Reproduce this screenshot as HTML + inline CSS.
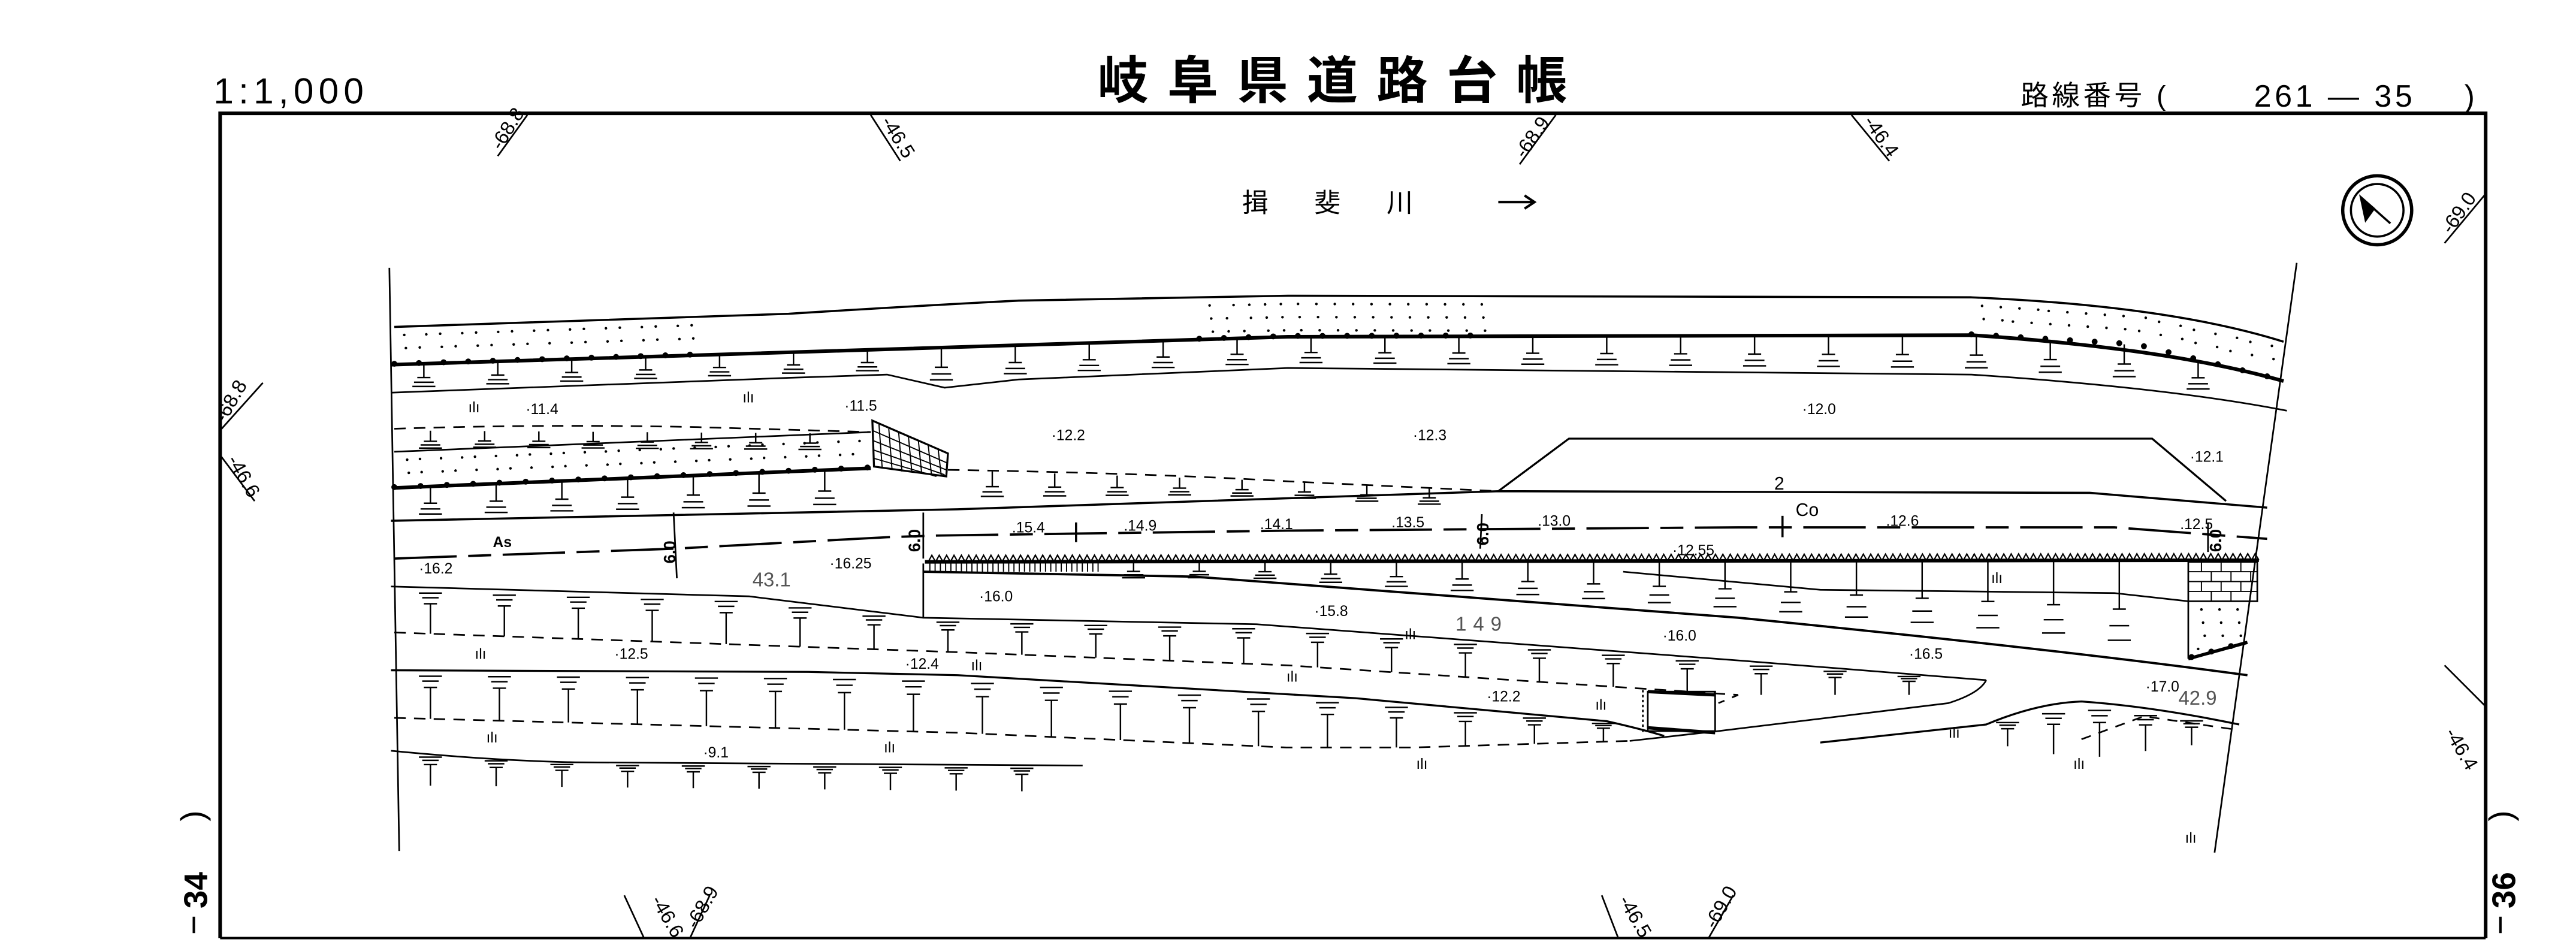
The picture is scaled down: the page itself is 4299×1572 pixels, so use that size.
<!DOCTYPE html>
<html><head><meta charset="utf-8"><style>
html,body{margin:0;padding:0;background:#fff}
svg{display:block}
text{font-family:"Liberation Sans","Noto Sans CJK JP",sans-serif;fill:#000}
</style></head><body>
<svg id="s" xmlns="http://www.w3.org/2000/svg" width="4299" height="1572" viewBox="0 0 1568 573.4" preserveAspectRatio="none">
<rect width="1568" height="574" fill="#fff"/>
<g fill="none" stroke="#000" stroke-width="1">
<path d="M134,571 L134,69 L1513,69 L1513,571" stroke-width="2.2"/>
<line x1="134" y1="571" x2="1513" y2="571" stroke-width="1.5"/>
<line x1="237" y1="163" x2="243" y2="518"/>
<line x1="1398" y1="160" x2="1348" y2="519"/>
<path id="A" d="M240,199 L480,191 Q560,186 620,183 L784,180 L1200,181 Q1320,186 1390,208" stroke-width="1.3"/>
<path d="M238,222 L784,205 L1200,204 Q1320,212 1390,232" stroke-width="2.2"/>
<path d="M238,239 L480,230 L540,228 L575,236 L620,231 L784,224 L1200,228 Q1320,236 1392,250"/>
<path d="M240,261 Q330,258 425,260 L530,263" stroke-dasharray="7 5"/>
<path d="M240,275 L530,263"/>
<path d="M240,297 L530,285" stroke-width="2.2"/>
<path d="M531,256 L577,276 L576,290 L532,284 Z" stroke-width="1.2"/>
<g stroke-width="0.7">
<path d="M535,258 L537,285 M541,261 L543,286 M547,263 L549,287 M553,266 L555,287 M559,268 L561,288 M565,271 L567,289 M571,273 L573,290"/>
<path d="M531,262 L577,282 M531,268 L576,286 M532,274 L575,289 M532,279 L570,290"/>
</g>
<path d="M577,286 Q700,288 784,293 L912,299" stroke-dasharray="7 5"/>
<path d="M238,317 L583,310 L912,299 L1272,300 L1380,309" stroke-width="1.3"/>
<path d="M912,299 L955,267 L1310,267 L1355,305" stroke-width="1.2"/>
<path d="M240,340 L410,334 L540,327 L570,326 L784,323 L1058,321 L1287,321 L1380,328" stroke-width="1.4" stroke-dasharray="38 7 14 7"/>
<line x1="655" y1="318" x2="655" y2="330" stroke-width="1.3"/>
<line x1="1085" y1="314" x2="1085" y2="327" stroke-width="1.3"/>
<path d="M410,312 L412,352 M562,312 L562,340 M902,313 L901,334 M1344,318 L1344,336" stroke-width="1"/>
<path d="M238,357 L456,363 L562,376 L765,380 L1058,402 L1209,414"/>
<line x1="562" y1="343" x2="562" y2="376"/>
<path d="M562,348 L727,351 L1058,376 Q1250,395 1368,411" stroke-width="1.4"/>
<path d="M988,348 L1108,359 L1287,361 L1332,366"/>
<path d="M240,385 L583,397 L784,405 L1058,423 L1046,428" stroke-dasharray="7 5"/>
<path d="M238,408 L492,409 L583,411 L825,425 L978,439 Q1000,444 1013,448" stroke-width="1.2"/>
<path d="M240,437 L583,446 L783,455 L860,455 L992,451" stroke-dasharray="7 5"/>
<path d="M992,451 L1046,445 L1186,428 Q1205,422 1209,414"/>
<rect x="1003" y="421" width="41" height="24"/>
<line x1="1003" y1="421" x2="1044" y2="423" stroke-width="2"/>
<line x1="1003" y1="443" x2="1044" y2="446" stroke-width="2"/>
<line x1="1000" y1="420" x2="1000" y2="446" stroke-dasharray="1.5 1.5"/>
<path d="M238,457 Q300,463 350,464 L659,466"/>
<path d="M1108,452 L1209,441 Q1240,428 1267,427 Q1310,430 1363,441" stroke-width="1.2"/>
<path d="M1267,450 L1305,436 L1360,444" stroke-dasharray="6 5"/>
<path d="M563,342 L1375,341" stroke-width="2.2"/>
<path id="zz" stroke-width="0.8"/>
<g stroke-width="0.7"><path id="vh"/></g>
<rect x="1332" y="342" width="42" height="24"/>
<path d="M1332,348 L1374,348 M1332,354 L1374,354 M1332,360 L1374,360 M1340,342 L1340,348 M1352,342 L1352,348 M1364,342 L1364,348 M1346,348 L1346,354 M1358,348 L1358,354 M1370,348 L1370,354 M1340,354 L1340,360 M1352,354 L1352,360 M1364,354 L1364,360 M1346,360 L1346,366 M1358,360 L1358,366" stroke-width="0.7"/>
<path d="M1332,366 L1332,401" stroke-width="1"/>
<path d="M1332,401 L1368,391" stroke-width="2"/>
<g id="ticks" stroke-width="0.9"></g>
<g id="bumps" fill="#000" stroke="none"></g>
<g id="dots" fill="#000" stroke="none"></g>
<circle cx="1447" cy="128" r="21" stroke-width="2"/>
<circle cx="1447" cy="128" r="16" stroke-width="1.3"/>
<path d="M1437,120 L1455,136 M1437,120 L1440,134 L1445,127 Z" stroke-width="1.3" fill="#000"/>
<path d="M321,70 L303,95 M530,70 L548,98 M947,70 L925,100 M1127,70 L1150,98 M1513,118 L1488,148 M134,262 L160,233 M134,277 L155,305 M1513,430 L1488,405 M392,571 L380,545 M420,571 L432,545 M985,571 L975,545 M1040,571 L1055,545" stroke-width="1"/>
<line x1="118" y1="558" x2="118" y2="568" stroke-width="1.5"/>
<line x1="1522" y1="558" x2="1522" y2="568" stroke-width="1.5"/>
</g>
<text x="130" y="63" font-size="22" letter-spacing="3">1:1,000</text>
<text x="668" y="60" font-size="31" font-weight="bold" letter-spacing="11.5">岐阜県道路台帳</text>
<text x="1230" y="64" font-size="17" letter-spacing="2">路線番号 (</text>
<text x="1372" y="65" font-size="19" letter-spacing="2">261 — 35</text>
<text x="1500" y="65" font-size="19">)</text>
<text x="756" y="129" font-size="16" letter-spacing="28">揖斐川</text>
<path d="M912,123 L934,123 M928,119 L934,123 L928,127" stroke="#000" fill="none" stroke-width="1.5"/>
<g font-size="12">
<text transform="translate(305,92) rotate(-58)">-68.8</text>
<text transform="translate(536,74) rotate(58)">-46.5</text>
<text transform="translate(928,97) rotate(-55)">-68.9</text>
<text transform="translate(1134,74) rotate(55)">-46.4</text>
<text transform="translate(1492,143) rotate(-55)">-69.0</text>
<text transform="translate(137,258) rotate(-60)">-68.8</text>
<text transform="translate(138,280) rotate(60)">-46.6</text>
<text transform="translate(1488,446) rotate(60)">-46.4</text>
<text transform="translate(396,548) rotate(60)">-46.6</text>
<text transform="translate(424,566) rotate(-60)">-68.9</text>
<text transform="translate(985,548) rotate(60)">-46.5</text>
<text transform="translate(1044,566) rotate(-60)">-69.0</text>
</g>
<text transform="translate(124,500) rotate(-90)" font-size="20">)</text>
<text transform="translate(126,553) rotate(-90)" font-size="20" font-weight="bold">34</text>
<text transform="translate(1529,500) rotate(-90)" font-size="20">)</text>
<text transform="translate(1531,553) rotate(-90)" font-size="20" font-weight="bold">36</text>
<g font-size="9">
<text x="320" y="252">·11.4</text><text x="514" y="250">·11.5</text>
<text x="640" y="268">·12.2</text><text x="860" y="268">·12.3</text>
<text x="1097" y="252">·12.0</text><text x="1333" y="281">·12.1</text>
<text x="255" y="349">·16.2</text><text x="505" y="346">·16.25</text>
<text x="616" y="324">.15.4</text><text x="684" y="323">.14.9</text>
<text x="767" y="322">.14.1</text><text x="847" y="321">.13.5</text>
<text x="936" y="320">.13.0</text><text x="1148" y="320">.12.6</text>
<text x="1018" y="338">·12.55</text><text x="1327" y="322">.12.5</text>
<text x="596" y="366">·16.0</text><text x="800" y="375">·15.8</text>
<text x="1012" y="390">·16.0</text><text x="1162" y="401">·16.5</text>
<text x="374" y="401">·12.5</text><text x="551" y="407">·12.4</text>
<text x="905" y="427">·12.2</text><text x="1306" y="421">·17.0</text>
<text x="428" y="461">·9.1</text>
<text x="300" y="333" font-weight="bold">As</text>
<text x="1093" y="314" font-size="11">Co</text>
<text x="1080" y="298" font-size="11">2</text>
</g>
<g font-size="12" font-family="Liberation Serif,serif">
<text x="458" y="357" style="fill:#555">43.1</text>
<text x="886" y="384" style="fill:#555" letter-spacing="4">149</text>
<text x="1326" y="429" style="fill:#555">42.9</text>
</g>
<g font-size="10" font-weight="bold">
<text transform="translate(411,343) rotate(-90)">6.0</text>
<text transform="translate(560,336) rotate(-90)">6.0</text>
<text transform="translate(906,332) rotate(-90)">6.0</text>
<text transform="translate(1352,336) rotate(-90)">6.0</text>
</g>
<g font-size="9" id="grass"></g>
</svg>
<script>
var NS="http://www.w3.org/2000/svg";
function ip(p,x){for(var i=0;i<p.length-1;i++){if(x>=p[i][0]&&x<=p[i+1][0]){var t=(x-p[i][0])/(p[i+1][0]-p[i][0]);return p[i][1]+t*(p[i+1][1]-p[i][1]);}}return x<p[0][0]?p[0][1]:p[p.length-1][1];}
var d="";
function down(top,bot,x0,x1,st){for(var x=x0;x<=x1;x+=st){var a=ip(top,x),b=ip(bot,x),h=Math.max(b-a,12);var y=a+h*0.5;d+="M"+x+","+a+"L"+x+","+y+"M"+(x-4)+","+y+"L"+(x+4)+","+y+"M"+(x-6)+","+(y+h*0.17)+"L"+(x+6)+","+(y+h*0.17)+"M"+(x-7)+","+(y+h*0.32)+"L"+(x+7)+","+(y+h*0.32);}}
function up(top,bot,x0,x1,st){for(var x=x0;x<=x1;x+=st){var a=ip(top,x),b=ip(bot,x),h=b-a;d+="M"+(x-7)+","+(a+h*0.12)+"L"+(x+7)+","+(a+h*0.12)+"M"+(x-5)+","+(a+h*0.22)+"L"+(x+5)+","+(a+h*0.22)+"M"+(x-4)+","+(a+h*0.35)+"L"+(x+4)+","+(a+h*0.35)+"M"+x+","+(a+h*0.35)+"L"+x+","+b;}}
var B=[[238,222],[784,205],[1200,204],[1300,210],[1390,232]],C=[[238,239],[480,230],[540,228],[575,236],[620,231],[784,224],[1200,228],[1300,234],[1392,250]];
down(B,C,258,1360,45);
down([[240,262],[530,264]],[[240,276],[530,264]],262,520,33);
down([[240,297],[530,285]],[[240,317],[583,310]],262,520,40);
down([[577,286],[784,293],[912,299]],[[577,306],[912,300]],604,880,38);
down([[563,342],[1375,341]],[[562,348],[727,351],[1058,376],[1250,395],[1368,411]],690,1320,40);
up([[238,357],[456,363],[562,376],[765,380],[1058,402],[1209,414]],[[240,385],[583,397],[784,405],[1058,423]],262,1200,45);
up([[238,408],[492,409],[583,411],[825,425],[978,439],[1013,448]],[[240,437],[583,446],[783,455],[860,455],[992,451]],262,990,42);
up([[238,457],[350,464],[659,466]],[[238,478],[659,482]],262,640,40);
up([[1209,441],[1267,427],[1363,441]],[[1209,452],[1267,462],[1363,450]],1222,1350,28);
var pt=document.createElementNS(NS,"path");pt.setAttribute("d",d);document.getElementById("ticks").appendChild(pt);
var z="";for(var x=565;x<1373;x+=4.5){var y=ip([[563,342],[1375,341]],x);z+="M"+x+","+y+"L"+(x+2.2)+","+(y-4)+"L"+(x+4.5)+","+y;}
document.getElementById("zz").setAttribute("d",z);
var v="";for(var x=566;x<670;x+=3.2){v+="M"+x+",342L"+x+",348";}document.getElementById("vh").setAttribute("d",v);
var bg=document.getElementById("bumps");
function bumps(p,x0,x1,st){for(var x=x0;x<=x1;x+=st){var c=document.createElementNS(NS,"circle");c.setAttribute("cx",x);c.setAttribute("cy",ip(p,x)-0.5);c.setAttribute("r",1.8);bg.appendChild(c);}}
bumps(B,240,430,15);bumps(B,730,905,15);bumps(B,1200,1388,15);
bumps([[240,297],[530,285]],240,530,16);
bumps([[1332,401],[1368,391]],1334,1366,12);
var dg=document.getElementById("dots");
function dots(top,bot,x0,x1){for(var x=x0;x<=x1;x+=11){var a=ip(top,x),b=ip(bot,x);for(var y=a+5;y<b-3;y+=8){var c=document.createElementNS(NS,"circle");c.setAttribute("cx",x+((y*7)%5));c.setAttribute("cy",y);c.setAttribute("r",0.8);dg.appendChild(c);}}}
var A=[[240,199],[480,191],[620,183],[784,180],[1200,181],[1300,188],[1390,208]];
dots(A,B,244,430);dots(A,B,735,900);dots(A,B,1203,1385);
dots([[240,275],[530,263]],[[240,297],[530,285]],244,525);
dots([[1332,366],[1368,366]],[[1332,401],[1368,391]],1338,1362);
var g=document.getElementById("grass");
[[285,251],[452,245],[1212,355],[289,401],[591,408],[783,415],[971,432],[296,452],[538,458],[862,468],[1186,449],[1262,468],[1330,513],[855,389]].forEach(function(q){var t=document.createElementNS(NS,"text");t.setAttribute("x",q[0]);t.setAttribute("y",q[1]);t.textContent="ılı";g.appendChild(t);});
</script>
</body></html>
